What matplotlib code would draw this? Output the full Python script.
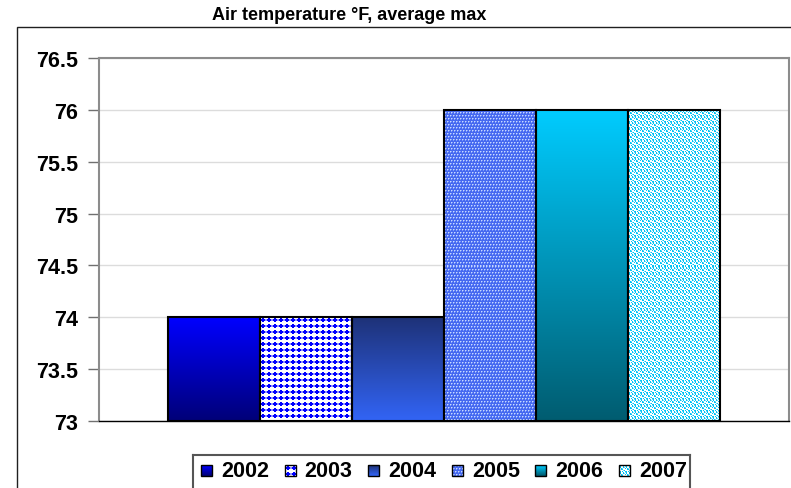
import numpy as np
import matplotlib as mpl
mpl.use('Agg')
import matplotlib.pyplot as plt
from matplotlib.patches import Rectangle

years = ['2002', '2003', '2004', '2005', '2006', '2007']
max_temp = [74, 74, 74, 76, 76, 76]
y_ticks = [73, 73.5, 74, 74.5, 75, 75.5, 76, 76.5]
title = 'Air temperature \u00b0F, average max'

W, H = 791, 489
plt.rcParams['font.family'] = ['Liberation Sans', 'DejaVu Sans']


def gradient(top, bottom, h, w):
    t = np.linspace(0, 1, max(h, 2))[:, None, None]
    col = (1 - t) * np.array(top) + t * np.array(bottom)
    return np.repeat(col, max(w, 2), axis=1) / 255.0


def tiled(tile, h, w):
    tile = np.asarray(tile, dtype=float)
    th, tw = tile.shape[:2]
    reps = (h // th + 2, w // tw + 2, 1)
    return np.tile(tile, reps)[:h, :w] / 255.0


def tile_dots():
    # white ground with blue plus-shaped dots
    t = np.full((6, 6, 3), 255.0)
    blue = [0, 0, 255]
    for y in range(1, 5):
        for x in range(1, 5):
            if (y, x) not in [(1, 1), (1, 4), (4, 1), (4, 4)]:
                t[y, x] = blue
    t[2:4, 0] = [150, 150, 255]
    t[2:4, 5] = [150, 150, 255]
    return t


def tile_checks():
    base = [70, 105, 240]
    light = [200, 215, 255]
    mid = [130, 160, 250]
    t = np.array([[base] * 6 for _ in range(6)], dtype=float)
    for (y, x) in [(0, 0), (0, 3), (3, 1), (3, 4)]:
        t[y, x] = light
        t[y, (x + 1) % 6] = mid
        t[(y + 1) % 6, x] = mid
    return t


def tile_specks():
    # white ground with small cyan specks in a staggered layout
    t = np.full((6, 6, 3), 255.0)
    cyan = [0, 195, 245]
    soft = [120, 220, 250]
    for (y, x) in [(0, 0), (0, 1), (1, 1), (0, 3), (1, 4), (2, 4),
                   (3, 0), (3, 2), (4, 2), (4, 3), (5, 5), (2, 1)]:
        t[y, x] = cyan
    for (y, x) in [(1, 0), (3, 3), (5, 4), (2, 5)]:
        t[y, x] = soft
    return t


fills = [
    lambda h, w: gradient([0, 0, 255], [0, 0, 120], h, w),
    lambda h, w: tiled(tile_dots(), h, w),
    lambda h, w: gradient([30, 50, 120], [50, 100, 245], h, w),
    lambda h, w: tiled(tile_checks(), h, w),
    lambda h, w: gradient([0, 204, 255], [0, 92, 112], h, w),
    lambda h, w: tiled(tile_specks(), h, w),
]

fig = plt.figure(figsize=(W / 100, H / 100), dpi=100)
ax = fig.add_axes([99 / W, (H - 422) / H, (789 - 99) / W, (422 - 59) / H])

# outer chart frame (runs off the right and bottom edges)
fig.add_artist(Rectangle((17 / W, -0.1), 1.2, (H - 28) / H + 0.1, transform=fig.transFigure,
                         fill=False, edgecolor='#202020', lw=1.0))

ax.set_xlim(-0.5, 0.5)
ax.set_ylim(73, 76.5)
ax.set_yticks(y_ticks)
ax.set_yticklabels(['%g' % v for v in y_ticks])
ax.set_xticks([])
ax.grid(axis='y', color='#dcdcdc', lw=1.0)
ax.set_axisbelow(True)
for s in ['top', 'right', 'left']:
    ax.spines[s].set_color('#8c8c8c')
    ax.spines[s].set_linewidth(1.5)
ax.spines['bottom'].set_color('black')
ax.spines['bottom'].set_linewidth(1.0)
ax.tick_params(axis='y', length=8, width=1, color='#707070', pad=7,
               labelsize=15.5)
for lab in ax.get_yticklabels():
    lab.set_fontweight('bold')

n = len(years)
bw = 0.8 / n
xs = [-0.4 + bw * (i + 0.5) for i in range(n)]
bars = ax.bar(xs, [v - 73 for v in max_temp], bottom=73, width=bw,
              facecolor='none', edgecolor='black', lw=1.5, zorder=3)

for i, b in enumerate(bars):
    x0, y0 = b.get_x(), b.get_y()
    x1, y1 = x0 + b.get_width(), y0 + b.get_height()
    p0 = ax.transData.transform((x0, y0))
    p1 = ax.transData.transform((x1, y1))
    w_px = int(round(abs(p1[0] - p0[0])))
    h_px = int(round(abs(p1[1] - p0[1])))
    ax.imshow(fills[i](h_px, w_px), extent=(x0, x1, y0, y1), aspect='auto',
              interpolation='nearest', zorder=2)
ax.set_xlim(-0.5, 0.5)
ax.set_ylim(73, 76.5)

fig.text(349 / W, 1 - 15 / H, title, ha='center', va='center',
         fontsize=13, fontweight='bold')

# legend box below the plot
lx0, lx1, ly0 = 193, 690, 456
lax = fig.add_axes([lx0 / W, 0, (lx1 - lx0) / W, (H - ly0) / H])
lax.set_xlim(0, lx1 - lx0)
lax.set_ylim(H - ly0, 0)
lax.set_xticks([])
lax.set_yticks([])
lax.spines['bottom'].set_visible(False)
for s in ['top', 'left', 'right']:
    lax.spines[s].set_color('#555555')
    lax.spines[s].set_linewidth(1.5)
step = 83.6
for i, yr in enumerate(years):
    sx = 8 + step * i
    lax.imshow(fills[i](11, 11), extent=(sx, sx + 11, 21, 10), aspect='auto',
               interpolation='nearest', zorder=2)
    lax.add_patch(Rectangle((sx, 10), 11, 11, fill=False, edgecolor='black',
                            lw=1.0, zorder=3))
    lax.text(sx + 20, 15.5, yr, ha='left', va='center', fontsize=15.5,
             fontweight='bold')
lax.set_xlim(0, lx1 - lx0)
lax.set_ylim(H - ly0, 0)

fig.savefig('out.png', dpi=100)
